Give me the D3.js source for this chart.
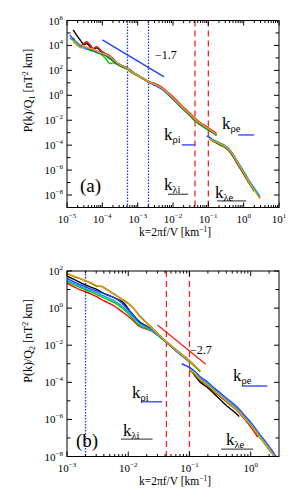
<!DOCTYPE html>
<html><head><meta charset="utf-8">
<script src="https://cdn.jsdelivr.net/npm/d3@7"></script>
<style>
body{margin:0;background:#fff}
svg{display:block}
</style>
</head><body><svg id="c" width="300" height="500" font-family="'Liberation Serif','Times New Roman','DejaVu Serif',serif"></svg>
<script>
// ---------------- DATA (log10 of P(k)/Q) ----------------
const seriesNames = ["black","red","green","darkgreen","blue","sky","orange"];
const seriesColors = ["#000000","#ff0000","#00d000","#007a00","#1f3fff","#0a9cff","#ff9500"];

// Panel (a) — low-k segment
const kA1 = [1.2e-5,1.5e-5,2e-5,2.5e-5,3e-5,3.6e-5,4.5e-5,5.5e-5,7e-5,9e-5,1.2e-4,1.6e-4,2e-4,2.6e-4,3.5e-4,5e-4,7e-4,1e-3,1.5e-3,2e-3,3e-3,5e-3,7e-3,1e-2,1.5e-2,2e-2,3e-2,4e-2,6e-2,0.1,0.17];
const aBlack1 = [null,5.25,4.7,4.35,4.05,4.15,3.9,3.7,3.8,3.55,3.35,3.1,2.95,2.6,2.4,2.2,1.9,1.6,1.32,1.1,0.92,0.5,0.12,-0.3,-0.8,-1.12,-1.6,-1.95,-2.32,-2.72,-3.2];
const aRed1 = [null,4.6,4.1,4.0,4.15,4.3,4.05,3.75,3.9,3.6,3.35,3.2,2.9,2.6,2.35,2.15,1.85,1.62,1.33,1.12,0.95,0.62,0.25,-0.12,-0.62,-0.98,-1.42,-1.78,-2.2,-2.6,-3.05];
const aGreen1 = [null,4.5,4.2,3.95,3.8,3.85,3.6,3.55,3.4,3.3,3.0,2.55,2.6,2.5,2.3,2.1,1.8,1.55,1.28,1.05,0.85,0.5,0.1,-0.3,-0.82,-1.18,-1.62,-2.0,-2.4,-2.8,-3.2];
const aDkGreen1 = [null,4.3,4.05,3.85,3.9,3.75,3.65,3.6,3.5,3.35,3.2,2.95,2.75,2.5,2.3,2.12,1.82,1.58,1.3,1.08,0.88,0.52,0.14,-0.26,-0.78,-1.14,-1.58,-1.95,-2.36,-2.76,-3.2];
const aBlue1 = [4.85,4.5,4.0,3.9,3.85,3.7,3.75,3.6,3.45,3.45,3.25,3.1,2.85,2.55,2.38,2.18,1.88,1.6,1.28,1.08,0.82,0.48,0.1,-0.28,-0.76,-1.1,-1.55,-1.9,-2.3,-2.7,null];
const aSky1 = [4.6,4.4,4.15,3.95,3.8,3.75,3.8,3.65,3.55,3.4,3.25,3.1,2.9,2.6,2.4,2.2,1.87,1.62,1.32,1.1,0.9,0.55,0.16,-0.24,-0.74,-1.08,-1.52,-1.88,-2.28,-2.7,-3.18];
const aOrange1 = [null,4.4,4.0,3.8,3.9,3.85,3.75,3.7,3.55,3.4,3.3,3.15,2.9,2.62,2.38,2.16,1.86,1.6,1.3,1.1,0.9,0.56,0.18,-0.22,-0.7,-1.05,-1.5,-1.85,-2.26,-2.66,-3.12];

// Panel (a) — high-k segment
const kA2 = [0.09,0.11,0.13,0.17,0.22,0.3,0.4,0.5,0.7,1.0,1.4,2.0,2.9];
const aBlack2 = [null,-3.5,-3.62,-3.8,-3.95,-4.15,-4.5,-4.9,-5.6,-6.3,-7.0,null,null];
const aRed2 = [null,-3.45,-3.6,-3.78,-3.92,-4.12,-4.45,-4.85,-5.55,-6.25,-6.95,-7.65,null];
const aGreen2 = [null,null,-3.55,-3.7,-3.85,-4.05,-4.4,-4.75,-5.45,-6.15,-6.85,-7.55,null];
const aDkGreen2 = [null,-3.5,-3.65,-3.82,-4.0,-4.2,-4.5,-4.88,-5.58,-6.3,-7.0,-7.7,null];
const aBlue2 = [-3.25,-3.4,-3.55,-3.72,-3.88,-4.08,-4.38,-4.75,-5.45,-6.12,-6.85,-7.5,-8.2];
const aSky2 = [null,-3.45,-3.58,-3.72,-3.86,-4.05,-4.35,-4.72,-5.4,-6.1,-6.8,-7.45,-8.1];
const aOrange2 = [null,-3.48,-3.62,-3.76,-3.92,-4.12,-4.42,-4.8,-5.5,-6.2,-6.92,-7.62,-8.3];

// Panel (b) — low-k segment
const kB1 = [1e-3,1.3e-3,1.6e-3,2e-3,2.5e-3,3.1e-3,3.7e-3,4.5e-3,6e-3,8e-3,1.14e-2,1.55e-2,2.3e-2,4e-2,6e-2,0.1,0.15];
const bBlack1 = [1.72,1.55,1.4,1.25,1.12,1.0,0.85,0.72,0.55,0.35,-0.28,-0.75,-1.1,-1.77,-2.28,-2.88,null];
const bRed1 = [1.34,1.15,1.0,0.88,0.75,0.6,0.45,0.32,0.1,-0.2,-0.6,-1.0,-1.2,-1.78,-2.28,-2.85,null];
const bGreen1 = [1.42,1.25,1.12,0.98,0.86,0.72,0.6,0.48,0.28,0.0,-0.5,-0.95,-1.18,-1.8,-2.3,-2.9,-3.42];
const bDkGreen1 = [1.85,1.7,1.6,1.47,1.34,1.18,1.17,1.0,0.74,0.47,0.1,-0.43,-0.98,-1.74,-2.24,-2.82,-3.42];
const bBlue1 = [1.6,1.42,1.28,1.15,1.02,0.92,0.82,0.72,0.55,0.25,-0.3,-0.8,-1.12,-1.78,-2.3,-2.9,null];
const bSky1 = [1.5,1.33,1.2,1.05,0.95,0.82,0.7,0.58,0.38,0.1,-0.38,-0.85,-1.14,-1.77,-2.28,-2.88,null];
const bOrange1 = [1.88,1.72,1.6,1.48,1.35,1.2,1.15,0.98,0.72,0.45,0.08,-0.46,-1.0,-1.75,-2.25,-2.85,-3.38];

// Panel (b) — high-k segment
const kB2 = [0.075,0.1,0.12,0.15,0.2,0.25,0.3,0.4,0.52,0.65,0.8,1.0,1.3,1.7,2.2,2.7];
const bBlack2 = [null,-3.2,-3.6,-4.0,-4.3,-4.6,-4.85,-5.25,-5.55,-5.85,null,null,null,null,null,null];
const bRed2 = [null,-3.35,-3.55,-3.9,-4.2,-4.5,-4.7,-5.05,-5.35,-5.65,-6.0,-6.4,-6.95,null,null,null];
const bGreen2 = [null,-3.35,-3.55,-3.88,-4.18,-4.47,-4.67,-5.02,-5.32,-5.62,-5.97,-6.32,-6.82,-7.32,-7.82,null];
const bDkGreen2 = [null,-3.32,-3.52,-3.87,-4.17,-4.47,-4.67,-5.02,-5.32,-5.62,-5.96,-6.3,-6.8,-7.3,-7.8,-8.25];
const bBlue2 = [-3.0,-3.2,-3.38,-3.7,-4.0,-4.3,-4.5,-4.85,-5.15,-5.45,-5.8,-6.15,-6.65,-7.15,-7.65,-8.1];
const bSky2 = [null,-3.28,-3.45,-3.78,-4.08,-4.38,-4.58,-4.93,-5.23,-5.53,-5.88,-6.22,-6.72,-7.22,-7.72,-8.15];
const bOrange2 = [null,-3.3,-3.5,-3.85,-4.15,-4.45,-4.65,-5.0,-5.3,-5.6,-5.95,-6.3,-6.8,-7.3,-7.8,-8.2];

// Reference slopes
const refA_k = [1e-4, 5.6e-3]; const refA_logP = [4.45, 1.48]; const refA_label = "\u22121.7";
const refB_k = [0.030, 0.185]; const refB_logP = [-0.91, -3.03]; const refB_label = "\u22122.7";

// Characteristic wavenumbers
const dottedA = [5e-4, 2e-3];
const dottedB = [2e-3];
const dashedK = [0.042, 0.1];

// Axis ranges and ticks
const xDomainA = [1e-5, 10]; const yDomainA = [1e-9, 1e6];
const xDomainB = [1e-3, 2.9]; const yDomainB = [1e-8, 1e2];
const xLabelExpA = [-5,-4,-3,-2,-1,0,1];
const yLabelExpA = [6,4,2,0,-2,-4,-6,-8];
const xLabelExpB = [-3,-2,-1,0];
const yLabelExpB = [2,0,-2,-4,-6,-8];

// Annotation underlines: [k0, k1, logP]
const aRhoI = [0.0178, 0.042, -3.98];
const aRhoE = [0.70, 1.98, -3.18];
const aLamI = [7.2e-3, 0.027, -7.94];
const aLamE = [0.178, 1.18, -8.47];
const bRhoI = [0.0166, 0.036, -5.05];
const bRhoE = [0.72, 1.87, -4.2];
const bLamI = [7.6e-3, 0.025, -7.06];
const bLamE = [0.33, 1.1, -7.6];

// ---------------- DRAWING ----------------
const svg = d3.select("#c");
const fmtMinus = e => (e < 0 ? "\u2212" + Math.abs(e) : String(e));

function panel(cfg) {
  const x = d3.scaleLog().domain(cfg.xDomain).range([cfg.left, cfg.right]);
  const y = d3.scaleLog().domain(cfg.yDomain).range([cfg.bottom, cfg.top]);
  const g = svg.append("g");
  const clipId = "clip" + cfg.id;
  svg.append("clipPath").attr("id", clipId).append("rect")
    .attr("x", cfg.left).attr("y", cfg.top)
    .attr("width", cfg.right - cfg.left).attr("height", cfg.bottom - cfg.top);
  const plot = g.append("g").attr("clip-path", `url(#${clipId})`);

  cfg.dotted.forEach(k => {
    const px = Math.round(x(k)) + 0.5;
    plot.append("line")
      .attr("x1", px).attr("x2", px).attr("y1", cfg.top).attr("y2", cfg.bottom)
      .attr("stroke", "#1a2cff").attr("stroke-width", 1.3).attr("stroke-dasharray", "1.5,1.5");
  });
  dashedK.forEach(k => plot.append("line")
    .attr("x1", x(k)).attr("x2", x(k)).attr("y1", cfg.top).attr("y2", cfg.bottom)
    .attr("stroke", "#ff2020").attr("stroke-width", 1.3).attr("stroke-dasharray", "6,4"));

  const line = d3.line().defined(d => d[1] !== null)
    .x(d => x(d[0])).y(d => y(Math.pow(10, d[1])))
    .curve(d3.curveCatmullRom.alpha(0.5));
  cfg.segments.forEach(seg => {
    seg.series.forEach((vals, i) => {
      const pts = seg.k.map((k, j) => [k, vals[j]]);
      plot.append("path").attr("d", line(pts)).attr("fill", "none")
        .attr("stroke", seriesColors[i]).attr("stroke-width", 1.4)
        .attr("stroke-linejoin", "round");
    });
  });

  plot.append("line")
    .attr("x1", x(cfg.ref.k[0])).attr("y1", y(Math.pow(10, cfg.ref.logP[0])))
    .attr("x2", x(cfg.ref.k[1])).attr("y2", y(Math.pow(10, cfg.ref.logP[1])))
    .attr("stroke", cfg.ref.color).attr("stroke-width", 1.3);
  g.append("text").attr("x", cfg.ref.tx).attr("y", cfg.ref.ty)
    .attr("font-size", 12).text(cfg.ref.label);

  g.append("rect").attr("x", cfg.left).attr("y", cfg.top)
    .attr("width", cfg.right - cfg.left).attr("height", cfg.bottom - cfg.top)
    .attr("fill", "none").attr("stroke", "#000").attr("stroke-width", 1);

  const e0 = Math.floor(Math.log10(cfg.xDomain[0])), e1 = Math.ceil(Math.log10(cfg.xDomain[1]));
  for (let e = e0; e <= e1; e++) {
    for (let m = 1; m <= 9; m++) {
      const v = m * Math.pow(10, e);
      if (v < cfg.xDomain[0] * 0.999 || v > cfg.xDomain[1] * 1.001) continue;
      const len = m === 1 ? 5 : 2.5;
      const px = x(v);
      g.append("line").attr("x1", px).attr("x2", px).attr("y1", cfg.bottom).attr("y2", cfg.bottom - len).attr("stroke", "#000");
      g.append("line").attr("x1", px).attr("x2", px).attr("y1", cfg.top).attr("y2", cfg.top + len).attr("stroke", "#000");
    }
  }
  cfg.xLabels.forEach(e => {
    const t = g.append("text").attr("x", x(Math.pow(10, e))).attr("y", cfg.bottom + 15)
      .attr("text-anchor", "middle").attr("font-size", 11);
    t.append("tspan").text("10");
    t.append("tspan").attr("dy", -5).attr("font-size", 7).text(fmtMinus(e));
  });

  const f0 = Math.round(Math.log10(cfg.yDomain[0])), f1 = Math.round(Math.log10(cfg.yDomain[1]));
  for (let e = f0; e <= f1; e++) {
    const py = y(Math.pow(10, e));
    const len = cfg.yLabels.includes(e) ? 5 : 3.5;
    g.append("line").attr("x1", cfg.left).attr("x2", cfg.left + len).attr("y1", py).attr("y2", py).attr("stroke", "#000");
    g.append("line").attr("x1", cfg.right).attr("x2", cfg.right - len).attr("y1", py).attr("y2", py).attr("stroke", "#000");
  }
  cfg.yLabels.forEach(e => {
    const t = g.append("text").attr("x", cfg.left - 4).attr("y", y(Math.pow(10, e)) + 4)
      .attr("text-anchor", "end").attr("font-size", 11);
    t.append("tspan").text("10");
    t.append("tspan").attr("dy", -5).attr("font-size", 7).text(fmtMinus(e));
  });

  const xt = g.append("text").attr("x", (cfg.left + cfg.right) / 2 + 2).attr("y", cfg.bottom + 28)
    .attr("text-anchor", "middle").attr("font-size", 11.5);
  xt.append("tspan").text("k=2\u03c0f/V [km");
  xt.append("tspan").attr("dy", -4).attr("font-size", 7.5).text("\u22121");
  xt.append("tspan").attr("dy", 4).text("]");

  const yt = g.append("text")
    .attr("transform", `translate(${cfg.left - 35},${cfg.top + 70}) rotate(-90)`)
    .attr("text-anchor", "middle").attr("font-size", 12);
  yt.append("tspan").text("P(k)/Q");
  yt.append("tspan").attr("dy", 3).attr("font-size", 8).text(cfg.qsub);
  yt.append("tspan").attr("dy", -3).text(" [nT");
  yt.append("tspan").attr("dy", -4).attr("font-size", 8).text("2");
  yt.append("tspan").attr("dy", 4).text(" km]");

  cfg.annots.forEach(a => {
    g.append("line").attr("x1", x(a.seg[0])).attr("x2", x(a.seg[1]))
      .attr("y1", y(Math.pow(10, a.seg[2]))).attr("y2", y(Math.pow(10, a.seg[2])))
      .attr("stroke", a.color).attr("stroke-width", 1.3);
    const t = g.append("text").attr("x", a.tx).attr("y", a.ty).attr("font-size", 17);
    t.append("tspan").text("k");
    t.append("tspan").attr("dy", 2.5).attr("font-size", 10.5).text(a.sub);
  });

  g.append("text").attr("x", cfg.tag[1]).attr("y", cfg.tag[2]).attr("font-size", 19).text(cfg.tag[0]);
}

const blueU = "#2a3cff", grayU = "#555555";

panel({
  id: "a", left: 67, right: 279, top: 20.5, bottom: 207.5,
  xDomain: xDomainA, yDomain: yDomainA, xLabels: xLabelExpA, yLabels: yLabelExpA,
  dotted: dottedA, qsub: "1",
  segments: [
    {k: kA1, series: [aBlack1, aRed1, aGreen1, aDkGreen1, aBlue1, aSky1, aOrange1]},
    {k: kA2, series: [aBlack2, aRed2, aGreen2, aDkGreen2, aBlue2, aSky2, aOrange2]}
  ],
  ref: {k: refA_k, logP: refA_logP, color: "#1f3fff", label: refA_label, tx: 155, ty: 59},
  annots: [
    {seg: aRhoI, color: blueU, sub: "\u03c1i", tx: 164, ty: 140},
    {seg: aRhoE, color: blueU, sub: "\u03c1e", tx: 222, ty: 129},
    {seg: aLamI, color: grayU, sub: "\u03bbi", tx: 164, ty: 190},
    {seg: aLamE, color: grayU, sub: "\u03bbe", tx: 215, ty: 198}
  ],
  tag: ["(a)", 80, 192]
});

panel({
  id: "b", left: 67, right: 279, top: 271, bottom: 456.5,
  xDomain: xDomainB, yDomain: yDomainB, xLabels: xLabelExpB, yLabels: yLabelExpB,
  dotted: dottedB, qsub: "2",
  segments: [
    {k: kB1, series: [bBlack1, bRed1, bGreen1, bDkGreen1, bBlue1, bSky1, bOrange1]},
    {k: kB2, series: [bBlack2, bRed2, bGreen2, bDkGreen2, bBlue2, bSky2, bOrange2]}
  ],
  ref: {k: refB_k, logP: refB_logP, color: "#ff1a1a", label: refB_label, tx: 190, ty: 354},
  annots: [
    {seg: bRhoI, color: blueU, sub: "\u03c1i", tx: 132, ty: 398},
    {seg: bRhoE, color: blueU, sub: "\u03c1e", tx: 233, ty: 381},
    {seg: bLamI, color: grayU, sub: "\u03bbi", tx: 123, ty: 436},
    {seg: bLamE, color: grayU, sub: "\u03bbe", tx: 226, ty: 445}
  ],
  tag: ["(b)", 76, 447]
});
</script>
</body></html>
